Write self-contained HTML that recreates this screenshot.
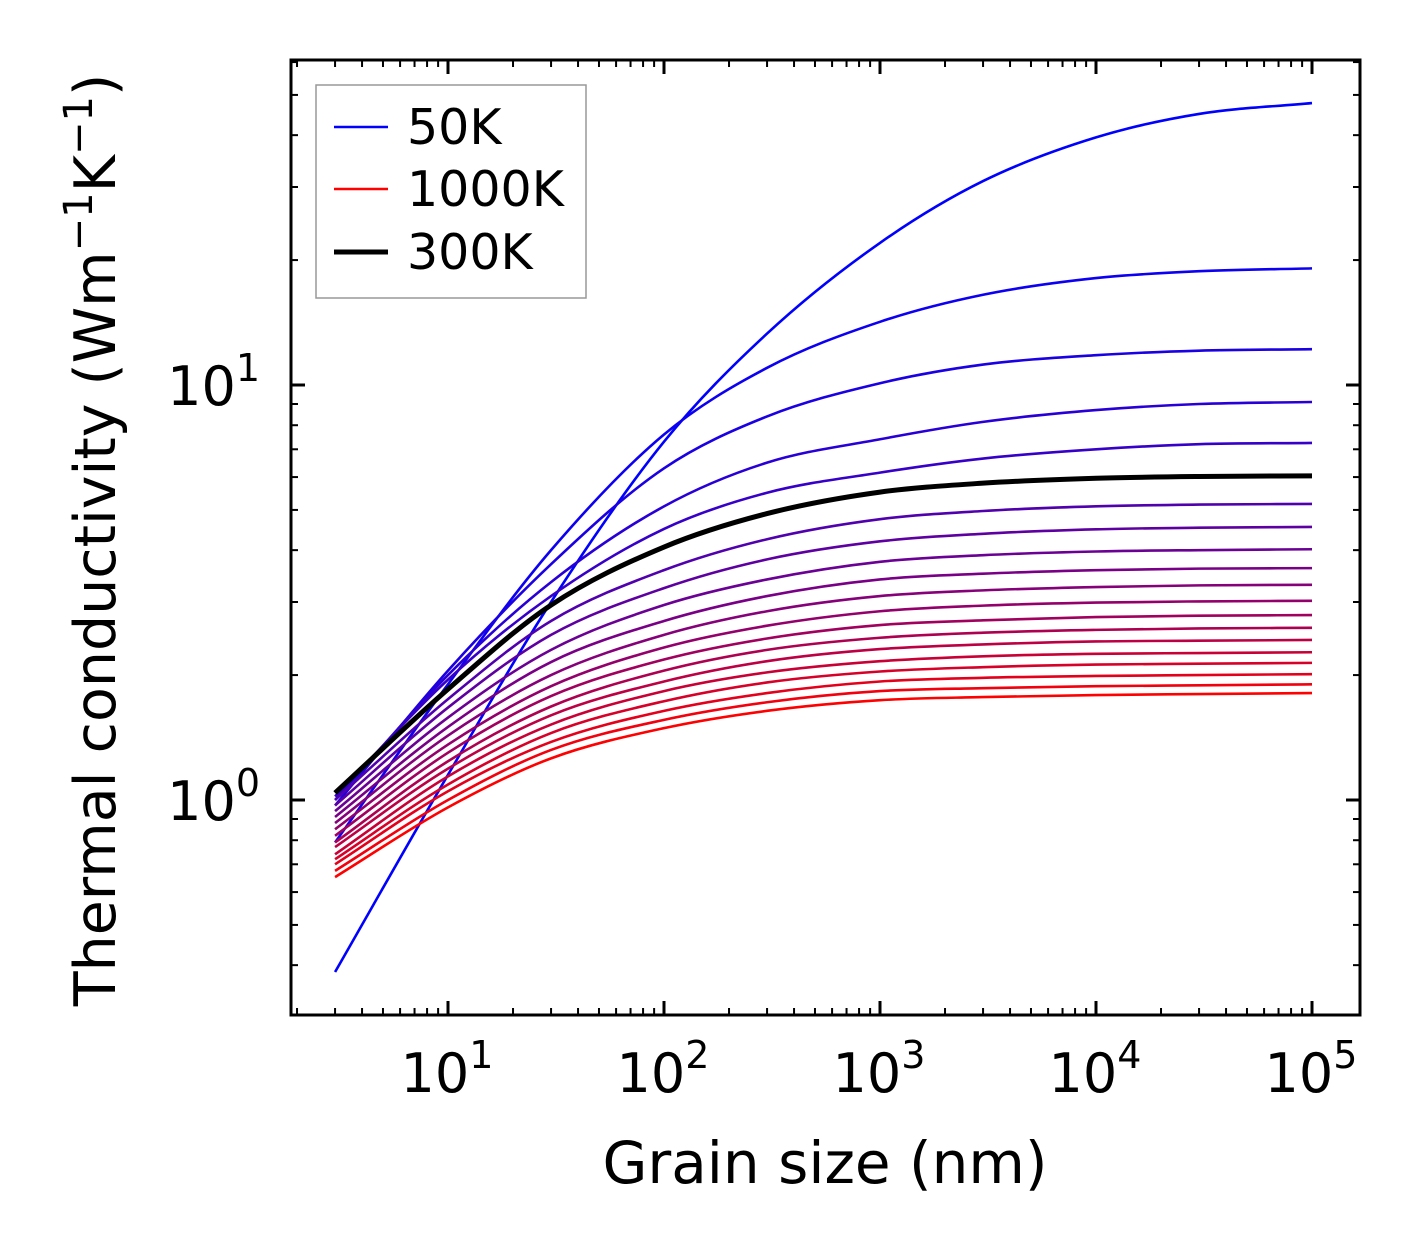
<!DOCTYPE html>
<html><head><meta charset="utf-8"><style>
html,body{margin:0;padding:0;background:#fff}
svg{display:block;font-family:"DejaVu Sans","Liberation Sans",sans-serif}
</style></head><body>
<svg id="chart" width="1421" height="1254" viewBox="0 0 1421 1254">
<g id="plot"></g>
<g id="axes"></g>
<text x="825" y="1183" font-size="58" text-anchor="middle">Grain size (nm)</text>
<text transform="translate(115,540) rotate(-90)" font-size="57" text-anchor="middle">Thermal conductivity (Wm<tspan dy="-23" font-size="40">−1</tspan><tspan dy="23">K</tspan><tspan dy="-23" font-size="40">−1</tspan><tspan dy="23">)</tspan></text>
<g>
<rect x="316" y="85" width="270" height="213" fill="#fff" stroke="#999" stroke-width="1.5"/>
<g><line x1="334" y1="127" x2="388" y2="127" stroke="#0000ff" stroke-width="2.5"/><text x="407" y="144" font-size="49">50K</text></g>
<g><line x1="334" y1="189" x2="388" y2="189" stroke="#ff0000" stroke-width="2.5"/><text x="407" y="206" font-size="49">1000K</text></g>
<g><line x1="334" y1="252" x2="388" y2="252" stroke="#000" stroke-width="5"/><text x="407" y="269" font-size="49">300K</text></g>
</g>
</svg>
<script>
const grainSizes=[3,10,30,100,300,1000,3000,10000,30000,100000];
const temperatures=[50,100,150,200,250,300,350,400,450,500,550,600,650,700,750,800,850,900,950,1000];
const k50=[0.385,1.15,3.0,7.3,13.3,22.0,31.0,39.5,45.0,47.8];
const k100=[0.79,1.9,4.0,7.6,11.0,14.2,16.5,18.1,18.8,19.1];
const k150=[0.97,2.05,3.7,6.3,8.4,10.1,11.2,11.8,12.1,12.2];
const k200=[1.0,2.0,3.35,5.1,6.5,7.4,8.15,8.7,9.0,9.1];
const k250=[1.02,1.95,3.1,4.5,5.5,6.15,6.65,7.0,7.2,7.25];
const k300=[1.04,1.85,2.95,4.07,4.9,5.52,5.8,5.96,6.02,6.04];
const k350=[1.0,1.75,2.7,3.58,4.25,4.75,4.97,5.1,5.15,5.17];
const k400=[0.97,1.67,2.5,3.24,3.8,4.2,4.38,4.49,4.53,4.55];
const k450=[0.94,1.58,2.3,2.95,3.4,3.75,3.89,3.97,4.0,4.02];
const k500=[0.91,1.5,2.15,2.7,3.1,3.4,3.51,3.58,3.61,3.62];
const k550=[0.88,1.43,2.0,2.5,2.85,3.1,3.2,3.26,3.29,3.30];
const k600=[0.85,1.36,1.88,2.33,2.63,2.85,2.94,2.99,3.01,3.02];
const k650=[0.82,1.3,1.78,2.18,2.45,2.64,2.71,2.76,2.78,2.79];
const k700=[0.79,1.24,1.68,2.05,2.3,2.46,2.53,2.57,2.59,2.60];
const k750=[0.77,1.19,1.6,1.93,2.16,2.31,2.37,2.41,2.42,2.43];
const k800=[0.74,1.14,1.52,1.83,2.03,2.16,2.22,2.25,2.26,2.27];
const k850=[0.72,1.09,1.45,1.73,1.92,2.04,2.09,2.12,2.13,2.14];
const k900=[0.70,1.05,1.38,1.64,1.81,1.93,1.97,1.99,2.0,2.01];
const k950=[0.675,1.0,1.32,1.56,1.72,1.83,1.86,1.88,1.89,1.90];
const k1000=[0.652,0.96,1.26,1.49,1.64,1.74,1.77,1.79,1.80,1.81];
const series=[k50,k100,k150,k200,k250,k300,k350,k400,k450,k500,k550,k600,k650,k700,k750,k800,k850,k900,k950,k1000];
const xTickLabels=["1","2","3","4","5"];
const yTickLabels=["0","1"];

const NS="http://www.w3.org/2000/svg";
const X0=291,X1=1360,Y0=60,Y1=1015;
const xs=v=>448+(Math.log10(v)-1)*216;
const ys=v=>800-Math.log10(v)*415;
function mk(t,a){const e=document.createElementNS(NS,t);for(const k in a)e.setAttribute(k,a[k]);return e;}
function pathFor(vals){
  const p=vals.map((v,i)=>[xs(grainSizes[i]),ys(v)]);
  const n=p.length,m=[];
  const dl=[];for(let i=0;i<n-1;i++)dl.push((p[i+1][1]-p[i][1])/(p[i+1][0]-p[i][0]));
  for(let i=0;i<n;i++){
    if(i===0)m.push(dl[0]);else if(i===n-1)m.push(dl[n-2]);
    else m.push(dl[i-1]*dl[i]<=0?0:(dl[i-1]+dl[i])/2);
  }
  let d="M"+p[0][0].toFixed(2)+","+p[0][1].toFixed(2);
  for(let i=0;i<n-1;i++){
    const h=(p[i+1][0]-p[i][0])/3;
    d+=" C"+(p[i][0]+h)+","+(p[i][1]+m[i]*h)+" "+(p[i+1][0]-h)+","+(p[i+1][1]-m[i+1]*h)+" "+p[i+1][0]+","+p[i+1][1];
  }
  return d;
}
const plot=document.getElementById('plot');
const order=series.map((s,i)=>i).filter(i=>i!==5);order.push(5);
order.forEach(i=>{
  const t=i/(series.length-1);
  const col=i===5?"#000":`rgb(${Math.round(255*t)},0,${Math.round(255*(1-t))})`;
  const el=mk('path',{d:pathFor(series[i]),fill:"none",stroke:col,"stroke-width":i===5?5:2.6,"stroke-linejoin":"round"});
  
  
  plot.appendChild(el);
});
const axes=document.getElementById('axes');
const frame=mk('rect',{x:X0,y:Y0,width:X1-X0,height:Y1-Y0,fill:"none",stroke:"#000","stroke-width":3});


axes.appendChild(frame);
function tick(x1,y1,x2,y2,w){axes.appendChild(mk('line',{x1,y1,x2,y2,stroke:"#000","stroke-width":w}));}
for(let d=0;d<=5;d++){for(let m=1;m<10;m++){const v=m*Math.pow(10,d);const x=xs(v);if(x<X0+1||x>X1-1)continue;
  const L=m===1?14:7,w=m===1?3:2;tick(x,Y1,x,Y1-L,w);tick(x,Y0,x,Y0+L,w);}}
for(let d=-1;d<=1;d++){for(let m=1;m<10;m++){const v=m*Math.pow(10,d);const y=ys(v);if(y<Y0+1||y>Y1-1)continue;
  const L=m===1?14:7,w=m===1?3:2;tick(X0,y,X0+L,y,w);tick(X1,y,X1-L,y,w);}}
xTickLabels.forEach(p=>{const t=mk('text',{x:xs(Math.pow(10,+p))-1,y:1092,"font-size":54,"text-anchor":"middle"});
  t.innerHTML='10<tspan dy="-24" font-size="38">'+p+'</tspan>';
  
  
  axes.appendChild(t);});
yTickLabels.forEach(p=>{const t=mk('text',{x:260,y:ys(Math.pow(10,+p))+20,"font-size":54,"text-anchor":"end"});
  t.innerHTML='10<tspan dy="-24" font-size="38">'+p+'</tspan>';
  
  
  axes.appendChild(t);});
</script>
</body></html>
